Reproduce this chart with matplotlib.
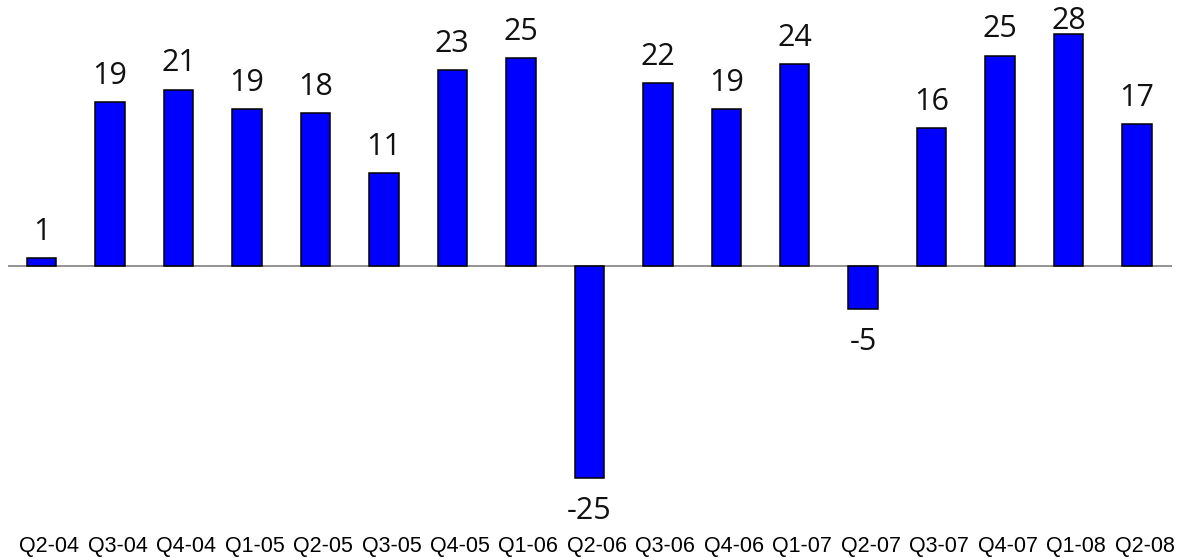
import numpy as np
import matplotlib
matplotlib.use("Agg")
import matplotlib.pyplot as plt
from matplotlib.transforms import ScaledTranslation

quarters = ['Q2-04', 'Q3-04', 'Q4-04', 'Q1-05', 'Q2-05', 'Q3-05', 'Q4-05', 'Q1-06', 'Q2-06',
            'Q3-06', 'Q4-06', 'Q1-07', 'Q2-07', 'Q3-07', 'Q4-07', 'Q1-08', 'Q2-08']
# bar heights (labels shown rounded)
growth = [0.87, 19.44, 20.95, 18.65, 18.13, 11.04, 23.25, 24.73, -25.32,
          21.70, 18.65, 23.96, -5.15, 16.35, 25.0, 27.58, 16.87]

W, H = 1178, 558
fig = plt.figure(figsize=(W / 100, H / 100), dpi=100)
# axes placed in pixel terms: x 8..1172, y 5..535 from top
ax = fig.add_axes([8 / W, 1 - 535 / H, 1164 / W, 530 / H])

x = np.arange(len(quarters))
ax.bar(x, growth, width=0.43, color='#0000ff', edgecolor='black', linewidth=1.1, zorder=3)
ax.axhline(0, color='#808080', lw=1.2, zorder=2)

ymin, ymax = -32.06, 31.04
gap_up, gap_down, top_cap = 2.2, 4.85, 28.2
for xi, v in zip(x, growth):
    if v >= 0:
        ty = min(v + gap_up, top_cap)   # keep the top label inside the picture
    else:
        ty = v - gap_down
    ax.text(xi, ty, '%.0f' % v, ha='center', va='baseline', fontsize=22,
            family=['Open Sans', 'DejaVu Sans'], color='#111111')

ax.set_xlim(-0.49, 16.51)
ax.set_ylim(ymin, ymax)
ax.set_xticks(x)
ax.set_xticklabels(quarters, fontsize=15.5, family='Liberation Sans')
ax.set_yticks([])
ax.tick_params(axis='x', length=0, pad=0.5)
shift = ScaledTranslation(7.5 / 100, 0, fig.dpi_scale_trans)
for lab in ax.get_xticklabels():
    lab.set_transform(lab.get_transform() + shift)
for s in ax.spines.values():
    s.set_visible(False)

fig.savefig('out.png', dpi=100)
